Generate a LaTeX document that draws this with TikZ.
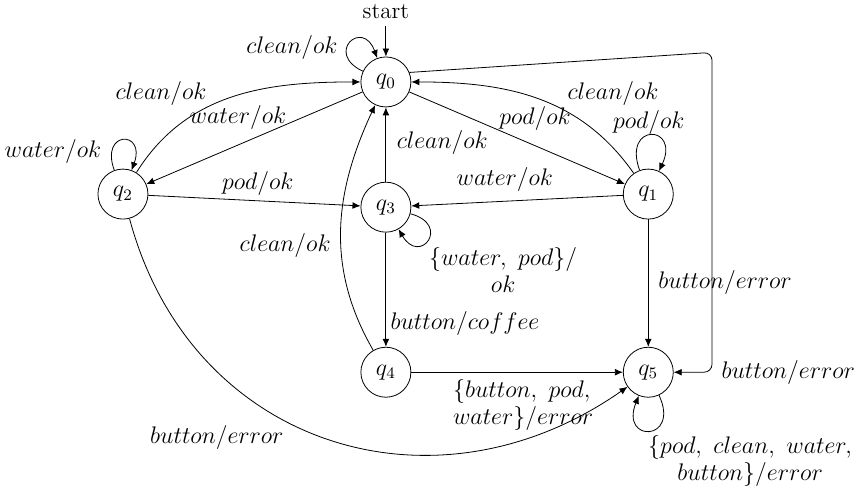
\documentclass[tikz,border=0pt]{standalone}
\usepackage{amsmath, amssymb}
\usepackage{tikz}
\usetikzlibrary{positioning,arrows.meta}
\tikzset{qstate/.style={draw,circle,minimum size=25pt,inner sep=0pt},
  every node/.style={font=\fontsize{11.5}{13.5}\selectfont}}

\begin{document}
\begin{tikzpicture}[>={Latex[length=4pt,width=3.4pt]}]
\useasboundingbox (0,0) rectangle (15.11,8.63);
% the states
\node[qstate] (q0) at (6.78,7.19) {$q_0$};
\node[qstate] (q1) at (11.39,5.22) {$q_1$};
\node[qstate] (q2) at (2.16,5.22) {$q_2$};
\node[qstate] (q3) at (6.78,4.99) {$q_3$};
\node[qstate] (q4) at (6.78,2.09) {$q_4$};
\node[qstate] (q5) at (11.39,2.09) {$q_5$};
\node (start) at (6.78,8.42) {start};
\coordinate (c1) at (12.51,7.71);% corner up right
\coordinate (c2) at (12.51,2.09);% corner down right

% the transitions
\draw[->](start)--(q0);
\draw[->](q0.155) .. controls +(155:0.75) and +(110:0.75) .. (q0.110);% self loops
\draw[->](q2.110) .. controls +(110:0.75) and +(70:0.75) .. (q2.70);
\draw[->](q1.110) .. controls +(110:0.9) and +(65:0.9) .. (q1.65);
\draw[->](q3.-15) .. controls +(-15:0.75) and +(-60:0.75) .. (q3.-60);
\draw[->](q5.-65) .. controls +(-65:0.9) and +(-112:0.9) .. (q5.-112);
\draw[->](q2) to[out=58,in=180] (q0);
\draw[->](q0)--(q2);
\draw[->](q2)--(q3);
\draw[->](q0)--(q1);
\draw[->](q1) to[out=125,in=0] (q0);
\draw[->](q1)--(q3);
\draw[->](q3)--(q0);
\draw[->](q3)--(q4);
\draw[->](q4) to[out=120,in=-115] (q0);
\draw[->](q4)--(q5);
\draw[->](q1)--(q5);
\draw[->,rounded corners=4pt](q0.22)--(c1)--(c2)--(q5);
\draw[->](q2) to[out=-75,in=-145,looseness=1.15] (q5);

% the labels
\node (l1) at (5.13,7.80) {$clean/ok$};
\node (l2) at (0.93,5.96) {$water/ok$};
\node (l3) at (2.83,6.99) {$clean/ok$};
\node (l4) at (4.18,6.57) {$water/ok$};
\node (l5) at (4.53,5.41) {$pod/ok$};
\node (l6) at (7.77,6.12) {$clean/ok$};
\node (l7) at (9.40,6.55) {$pod/ok$};
\node (l8) at (10.77,6.99) {$clean/ok$};
\node (l9) at (11.40,6.47) {$pod/ok$};
\node (l10) at (8.87,5.47) {$water/ok$};
\node[align=center] (l11) at (8.84,3.88) {$\{water,\ pod\}/$\\$ok$};
\node (l12) at (5.01,4.32) {$clean/ok$};
\node (l13) at (8.17,2.95) {$button/coffee$};
\node (l14) at (12.74,3.67) {$button/error$};
\node (l15) at (13.85,2.09) {$button/error$};
\node[align=left] (l16) at (9.19,1.51) {$\{button,\ pod,$\\$water\}/error$};
\node[align=center] (l17) at (13.18,0.53) {$\{pod,\ clean,\ water,$\\$button\}/error$};
\node (l18) at (3.81,0.95) {$button/error$};
\end{tikzpicture}
\end{document}
